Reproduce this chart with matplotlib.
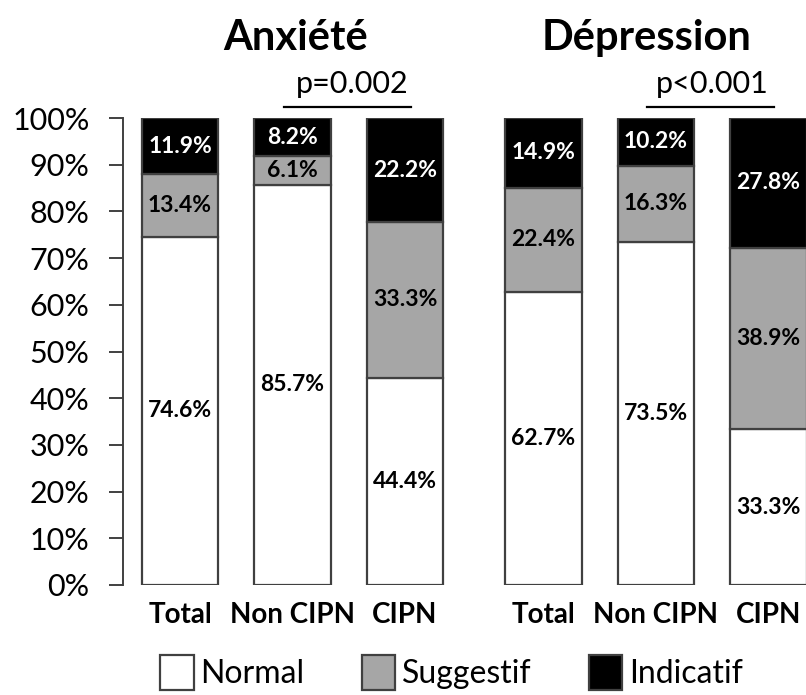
import numpy as np
import matplotlib.pyplot as plt
from matplotlib.patches import Patch

plt.rcParams['font.family'] = ['Lato', 'DejaVu Sans']

# ---------------------------------------------------------------------------
# Data (percent)
# ---------------------------------------------------------------------------
categories = ["Total", "Non CIPN", "CIPN", "Total", "Non CIPN", "CIPN"]
normal = [74.6, 85.7, 44.4, 62.7, 73.5, 33.3]
suggestif = [13.4, 6.1, 33.3, 22.4, 16.3, 38.9]
indicatif = [11.9, 8.2, 22.2, 14.9, 10.2, 27.8]
group_titles = ["Anxiété", "Dépression"]
p_values = ["p=0.002", "p<0.001"]
legend_labels = ["Normal", "Suggestif", "Indicatif"]

# bar positions: two groups of three, with a slightly wider gap between groups
x = np.array([0, 1, 2, 3.23, 4.23, 5.23])
width = 0.68
colors = ["white", "#a6a6a6", "black"]
edge = "#404040"

fig = plt.figure(figsize=(8.06, 6.95), dpi=100)
# 1 data unit = 112.5 px ; axis line at x = 123 px ; axes run past right edge
ax = fig.add_axes([123 / 806, 110 / 695, 704 / 806, 467 / 695])
ax.set_xlim(-0.507, -0.507 + 704 / 112.5)
ax.set_ylim(0, 100)

bottom = np.zeros(len(x))
series = [normal, suggestif, indicatif]
for vals, col in zip(series, colors):
    ax.bar(x, vals, width, bottom=bottom, color=col, edgecolor=edge,
           linewidth=1.6, zorder=2)
    txt_col = "white" if col == "black" else "black"
    for xi, b, v in zip(x, bottom, vals):
        ax.text(xi, b + v / 2, f"{v:.1f}%", ha="center", va="center",
                fontsize=16.5, fontweight="bold", color=txt_col, zorder=3)
    bottom += np.array(vals)

# axes styling
for s in ["top", "right", "bottom"]:
    ax.spines[s].set_visible(False)
ax.spines["left"].set_color("#404040")
ax.spines["left"].set_linewidth(1.4)
ax.set_yticks(np.arange(0, 101, 10))
ax.set_yticklabels([f"{v}%" for v in range(0, 101, 10)], fontsize=22)
ax.tick_params(axis="y", length=10, width=1.4, color="#404040", pad=14)
ax.set_xticks(x)
ax.set_xticklabels(categories, fontsize=20, fontweight="bold")
ax.tick_params(axis="x", length=0, pad=12)

# group titles and p-value brackets
title_x = [1.03, 4.15]
pv_x = [1.53, 4.73]
for g, (title, pv) in enumerate(zip(group_titles, p_values)):
    off = x[3 * g]
    ax.text(title_x[g], 114.6, title, ha="center", va="baseline", fontsize=30,
            fontweight="bold", clip_on=False)
    ax.plot([off + 0.92, off + 2.05], [102.4, 102.4], color="black", lw=1.6,
            clip_on=False)
    ax.text(pv_x[g], 105.4, pv, ha="center", va="baseline", fontsize=22,
            clip_on=False)

handles = [Patch(facecolor=c, edgecolor=edge, linewidth=1.6) for c in colors]
fig.legend(handles, legend_labels, loc="center", ncol=3,
           bbox_to_anchor=(0.56, 0.032), frameon=False, fontsize=23,
           handlelength=1.05, handleheight=1.3, handletextpad=0.2,
           columnspacing=1.8)

fig.savefig("out.png", dpi=100)
